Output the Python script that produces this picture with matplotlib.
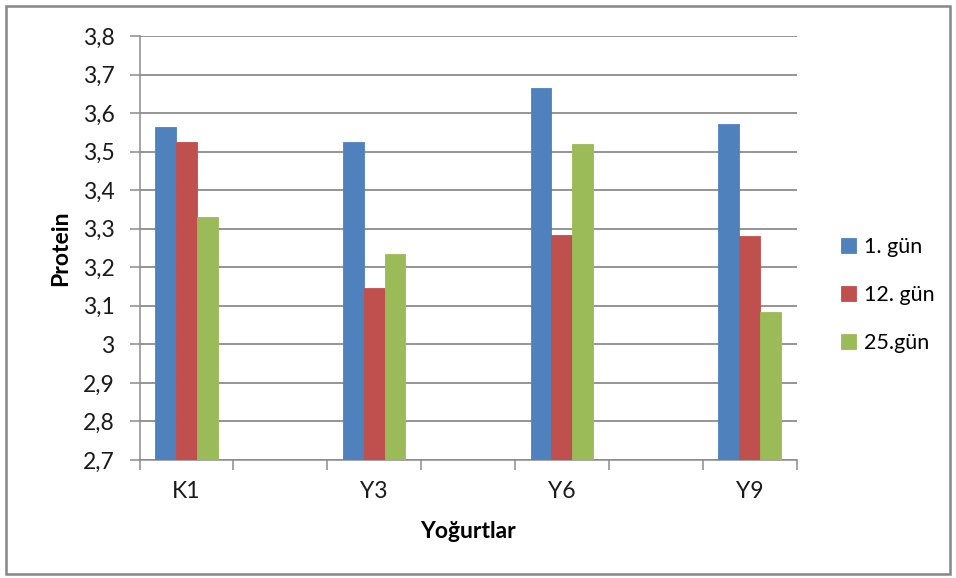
import matplotlib
matplotlib.use("Agg")
import matplotlib.pyplot as plt
from matplotlib.patches import Rectangle
from matplotlib.ticker import FuncFormatter, MultipleLocator
import numpy as np

plt.rcParams['font.family'] = ['Lato', 'DejaVu Sans']

# Categories (empty slots keep spacing between yogurt groups)
categories = ["K1", "", "Y3", "", "Y6", "", "Y9"]
series_names = ["1. gün", "12. gün", "25.gün"]
day1 = [3.564, None, 3.524, None, 3.664, None, 3.571]
day12 = [3.524, None, 3.145, None, 3.284, None, 3.281]
day25 = [3.331, None, 3.234, None, 3.521, None, 3.084]
colors = ["#4F81BD", "#C0504D", "#9BBB59"]

y_min, y_max = 2.7, 3.8
fs = 16.5

fig = plt.figure(figsize=(9.56, 5.78), dpi=100)
ax = fig.add_axes([139.5 / 956, 1 - 460 / 578, 657 / 956, 424 / 578])

x = np.arange(len(categories))
bar_w = 1 / 4.5
for i, (vals, name, c) in enumerate(zip([day1, day12, day25], series_names, colors)):
    xs = [xi + (i - 1) * bar_w for xi, v in zip(x, vals) if v is not None]
    hs = [v - y_min for v in vals if v is not None]
    ax.bar(xs, hs, width=bar_w, bottom=y_min, color=c, label=name, zorder=3,
           edgecolor=c, linewidth=0.6)

ax.set_xlim(-0.5, len(categories) - 0.5)
ax.set_ylim(y_min, y_max)

ax.yaxis.set_major_locator(MultipleLocator(0.1))


def comma_fmt(v, pos):
    s = f"{v:.1f}"
    if s.endswith(".0"):
        s = s[:-2]
    return s.replace(".", ",")


ax.yaxis.set_major_formatter(FuncFormatter(comma_fmt))
ax.grid(axis="y", color="#8C8C8C", linewidth=1.3, zorder=0)

ax.set_xticks(np.arange(-0.5, len(categories), 1.0))
ax.set_xticklabels([])
ax.set_xticks(x, minor=True)
ax.set_xticklabels(categories, minor=True)
ax.tick_params(axis="x", which="major", length=7, width=1.1, color="#8C8C8C", direction="out")
ax.tick_params(axis="x", which="minor", length=0, pad=15, labelsize=fs, labelcolor="#1a1a1a")
ax.tick_params(axis="y", length=7, width=1.1, color="#8C8C8C", direction="out",
               pad=11, labelsize=fs, labelcolor="#1a1a1a")

for side in ["top", "right"]:
    ax.spines[side].set_visible(False)
for side in ["left", "bottom"]:
    ax.spines[side].set_color("#8C8C8C")
    ax.spines[side].set_linewidth(1.1)

ax.set_ylabel("Protein", fontsize=fs, fontweight="bold", labelpad=8)
ax.set_xlabel("Yoğurtlar", fontsize=fs, fontweight="bold", labelpad=14)

leg = fig.legend(loc="center left", bbox_to_anchor=(822 / 956, 1 - 295 / 578),
                 frameon=False, fontsize=15.5, handlelength=0.7, handleheight=0.7,
                 handletextpad=0.35, labelspacing=1.3)

# Outer chart border
fig.patches.append(Rectangle((6 / 956, 4 / 578), 944 / 956, 568 / 578,
                             transform=fig.transFigure, fill=False,
                             edgecolor="#868686", linewidth=1.8))

fig.savefig("out.png", dpi=100)
